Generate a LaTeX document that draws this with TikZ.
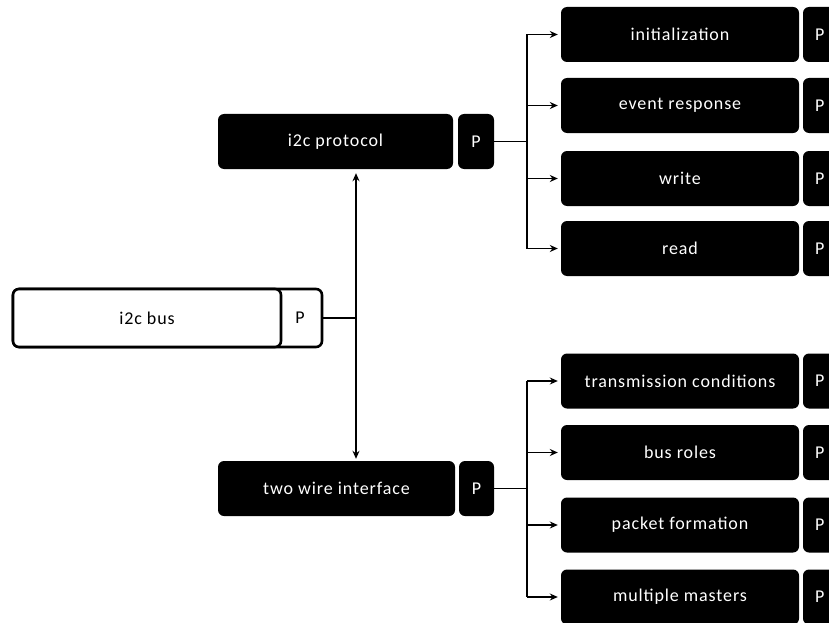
\documentclass[tikz,border=0pt]{standalone}
\usepackage{fontspec}
\setmainfont{Carlito}[LetterSpace=5]
\usetikzlibrary{arrows.meta}

\tikzset{
  base/.style={rounded corners=6pt, inner sep=0pt, minimum height=55pt,
    font=\fontsize{18}{21}\selectfont},
  darkbox/.style={base, fill=black, text=white},
  lightbox/.style={base, draw=black, line width=2.6pt, fill=white, minimum height=58pt},
  link/.style={line width=1.8pt},
  tip/.style={Stealth[length=8pt,width=7pt]},
  arrowlink/.style={link, -{Stealth[length=8pt,width=7pt]}, shorten >=3pt},
}

\begin{document}
\begin{tikzpicture}[x=1pt,y=-1pt]
\clip (0,0) rectangle (829,623);
\fill[white] (0,0) rectangle (829,623);

% root
\node[lightbox, minimum width=309pt] (busframe) at (167.5,318) {};
\node[lightbox, minimum width=268pt] (bus) at (147,318) {i2c bus};
\node[base] (busP) at (300,318) {P};

% second level
\node[darkbox, minimum width=235pt] (proto) at (335.5,141.5) {i2c protocol};
\node[darkbox, minimum width=36pt] (protoP) at (476,141.5) {P};
\node[darkbox, minimum width=237pt] (twi) at (336.5,488.5) {two wire interface};
\node[darkbox, minimum width=35pt] (twiP) at (476.5,488.5) {P};

% leaves
\foreach \n/\y/\t in {init/34.5/initialization, event/105.5/event response,
    write/178.5/write, read/248.5/read,
    trans/381/transmission conditions, roles/452.5/bus roles,
    packet/525/packet formation, multi/597/multiple masters} {
  \node[darkbox, minimum width=238pt] (\n) at (680,\y) {\t};
  \node[darkbox, minimum width=34pt, text width=28pt, align=left] (\n P) at (820,\y) {\hspace{9pt}P};
}

% connectors
\coordinate (j1) at (356,318);
\coordinate (j2) at (527,141.5);
\coordinate (j3) at (527,488.5);

\draw[link] (busframe.east) -- (j1);
\draw[link, {Stealth[length=8pt,width=7pt]}-{Stealth[length=8pt,width=7pt]},
  shorten <=4pt, shorten >=2pt] (j1 |- proto.south) -- (j1 |- twi.north);

\draw[link] (protoP.east) -- (j2);
\draw[link] (j2 |- init) -- (j2 |- read);
\foreach \n in {init,event,write,read}
  \draw[arrowlink] (j2 |- \n) -- (\n.west);

\draw[link] (twiP.east) -- (j3);
\draw[link] (j3 |- trans) -- (j3 |- multi);
\foreach \n in {trans,roles,packet,multi}
  \draw[arrowlink] (j3 |- \n) -- (\n.west);
\end{tikzpicture}
\end{document}
